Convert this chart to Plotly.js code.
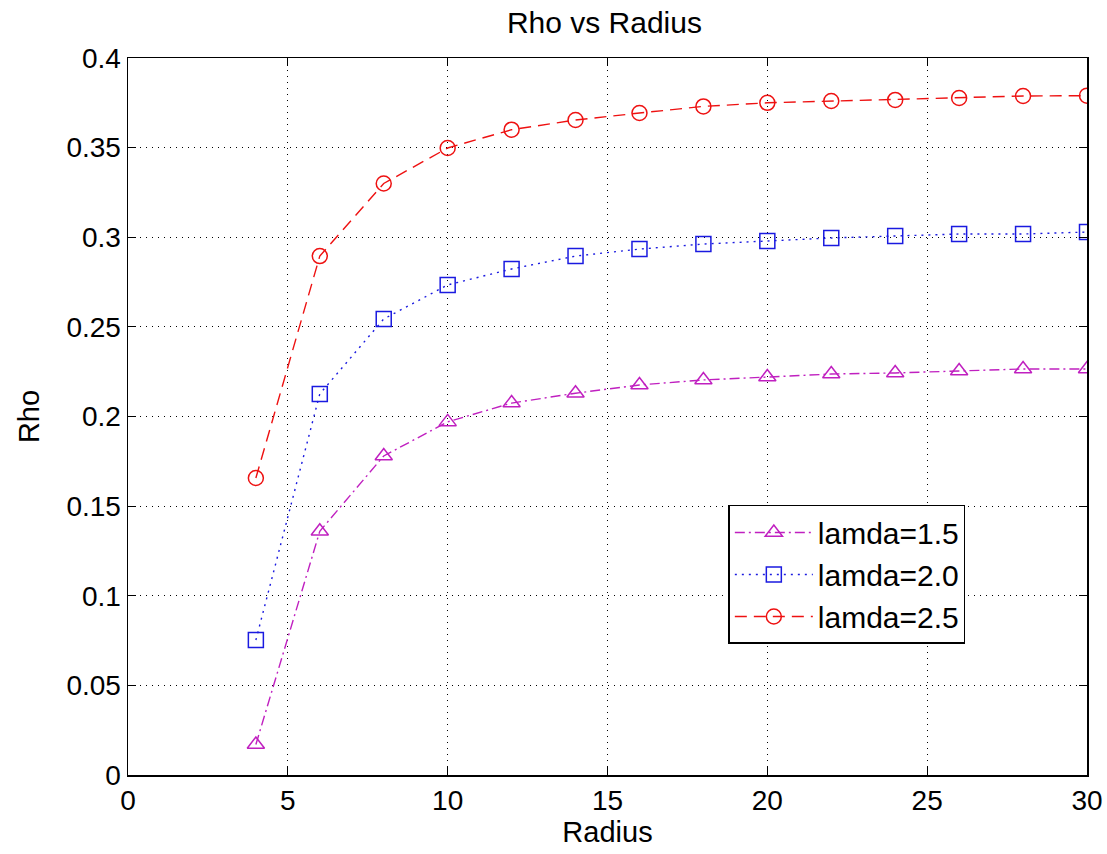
<!DOCTYPE html>
<html>
<head>
<meta charset="utf-8">
<script src="https://cdn.plot.ly/plotly-3.0.1.min.js"></script>
<style>html,body{margin:0;padding:0;background:#fff;}#chart{width:1107px;height:854px;}</style>
</head>
<body>
<div id="chart"></div>
<script>
const radius = [4, 6, 8, 10, 12, 14, 16, 18, 20, 22, 24, 26, 28, 30];
const rhoLamda15 = [0.017, 0.136, 0.178, 0.197, 0.2075, 0.213, 0.2176, 0.2204, 0.222, 0.2237, 0.2243, 0.2254, 0.2265, 0.2265];
const rhoLamda20 = [0.0753, 0.2126, 0.2544, 0.2734, 0.2823, 0.2895, 0.2934, 0.2962, 0.2979, 0.2996, 0.3007, 0.3018, 0.3018, 0.3029];
const rhoLamda25 = [0.1657, 0.2895, 0.330, 0.3498, 0.360, 0.3654, 0.3693, 0.373, 0.375, 0.376, 0.3766, 0.3777, 0.3788, 0.379];
const seriesNames = ['lamda=1.5', 'lamda=2.0', 'lamda=2.5'];
const xTicks = [0, 5, 10, 15, 20, 25, 30];
const yTicks = [0, 0.05, 0.1, 0.15, 0.2, 0.25, 0.3, 0.35, 0.4];
const yTickText = ['0', '0.05', '0.1', '0.15', '0.2', '0.25', '0.3', '0.35', '0.4'];

const font = 'Liberation Sans, Arial, sans-serif';
const traces = [
  {x: radius, y: rhoLamda15, name: seriesNames[0], mode: 'lines+markers',
   line: {color: '#c020c0', width: 1.4, dash: '10px,4px,2px,4px'},
   marker: {symbol: 'triangle-up-open', size: 15, color: '#c020c0', line: {width: 1.5}}},
  {x: radius, y: rhoLamda20, name: seriesNames[1], mode: 'lines+markers',
   line: {color: '#1a1ae0', width: 1.4, dash: '2px,5px'},
   marker: {symbol: 'square-open', size: 15, color: '#1a1ae0', line: {width: 1.5}}},
  {x: radius, y: rhoLamda25, name: seriesNames[2], mode: 'lines+markers',
   line: {color: '#ee1111', width: 1.4, dash: '12px,7px'},
   marker: {symbol: 'circle-open', size: 15, color: '#ee1111', line: {width: 1.5}}}
];

const axisCommon = {
  showline: true, linecolor: '#000', linewidth: 1.5, mirror: 'ticks',
  ticks: 'inside', ticklen: 8, tickwidth: 1.2, tickcolor: '#000',
  showgrid: true, gridcolor: '#000', gridwidth: 1, griddash: '1px,5px',
  zeroline: false, tickfont: {family: font, size: 28, color: '#000'}
};

const layout = {
  width: 1107, height: 854,
  margin: {l: 128, r: 20, t: 58, b: 79},
  paper_bgcolor: '#fff', plot_bgcolor: '#fff',
  font: {family: font, color: '#000'},
  title: {text: 'Rho vs Radius', font: {family: font, size: 30, color: '#000'},
          x: 0.546, xanchor: 'center', y: 0.974, yanchor: 'middle'},
  xaxis: Object.assign({}, axisCommon, {
    range: [0, 30], tickvals: xTicks, ticktext: xTicks.map(String),
    title: {text: 'Radius', font: {family: font, size: 29, color: '#000'}, standoff: 4}
  }),
  yaxis: Object.assign({}, axisCommon, {
    range: [0, 0.4], tickvals: yTicks, ticktext: yTickText,
    title: {text: 'Rho', font: {family: font, size: 29, color: '#000'}, standoff: 18}
  }),
  showlegend: true,
  legend: {x: 0.626, y: 0.3766, xanchor: 'left', yanchor: 'top',
           bgcolor: '#fff', bordercolor: '#000', borderwidth: 1.5,
           font: {family: font, size: 30, color: '#000'},
           itemwidth: 78, tracegroupgap: 0}
};

Plotly.newPlot('chart', traces, layout, {displayModeBar: false, staticPlot: true});
</script>
</body>
</html>
